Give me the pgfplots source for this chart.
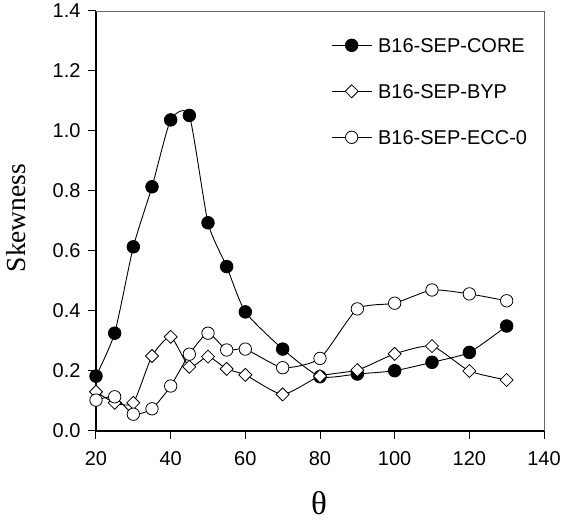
\documentclass[border=0pt]{standalone}
\usepackage{fontspec}
\setmainfont{Liberation Sans}
\newfontfamily\timesfont{Liberation Serif}
\usepackage{pgfplots}
\usepackage{pgfplotstable}
\pgfplotsset{compat=1.18}

% Skewness against angle theta for the three B16-SEP cases
\pgfplotstableread{
theta core  byp   ecc
20    0.183 0.131 0.103
25    0.326 0.094 0.114
30    0.614 0.094 0.056
35    0.814 0.250 0.074
40    1.037 0.314 0.150
45    1.052 0.214 0.256
50    0.694 0.248 0.326
55    0.548 0.207 0.270
60    0.397 0.187 0.273
70    0.273 0.122 0.211
80    0.181 0.183 0.242
90    0.190 0.203 0.407
100   0.201 0.257 0.426
110   0.229 0.283 0.470
120   0.262 0.200 0.457
130   0.350 0.170 0.434
}\skewtab

\begin{document}
\begin{tikzpicture}
\path[use as bounding box] (0,0) rectangle (565pt,521pt);
\begin{axis}[
  at={(96pt,90pt)}, anchor=south west,
  scale only axis, width=448pt, height=420pt,
  xmin=20, xmax=140, ymin=0, ymax=1.4,
  xtick={20,40,60,80,100,120,140},
  ytick={0,0.2,0.4,0.6,0.8,1.0,1.2,1.4},
  axis x line*=bottom, axis y line*=left,
  axis line style={line width=1.1pt, -},
  tick style={black, line width=1pt},
  tick align=outside, major tick length=8pt,
  minor tick num=0,
  /pgf/number format/assume math mode=true,
  tick label style={font=\fontsize{20}{24}\selectfont},
  yticklabel style={/pgf/number format/fixed, /pgf/number format/fixed zerofill,
    /pgf/number format/precision=1, xshift=-4pt},
  xticklabel style={yshift=-9pt},
  ylabel={\timesfont Skewness},
  ylabel style={font=\fontsize{27.5}{32}\selectfont, inner sep=0pt,
    at={(axis description cs:-0.179,0.507)}, anchor=center},
  xlabel={\timesfont θ},
  xlabel style={font=\fontsize{33}{38}\selectfont, inner sep=0pt,
    at={(axis description cs:0.498,-0.171)}, anchor=center},
  clip=false,
  legend style={draw=none, fill=none, inner sep=0pt,
    at={(axis description cs:0.5246,0.936)}, anchor=north west,
    font=\fontsize{20}{24}\selectfont, row sep=31.5pt, column sep=6pt,
    nodes={inner sep=0pt, text height=14.5pt, text depth=0pt}},
  legend cell align=left,
  legend image code/.code={\draw[mark repeat=2,mark phase=2] plot coordinates {(0pt,0pt) (20pt,0pt) (40pt,0pt)};},
  after end axis/.code={\draw[black!60, line width=0.8pt] (rel axis cs:0,1) -- (rel axis cs:1,1) -- (rel axis cs:1,0);},
]
\addplot[black, line width=0.9pt, smooth, tension=0.35, mark=*, mark size=6.3pt,
  mark options={fill=black, line width=0.8pt}] table[x=theta, y=core] {\skewtab};
\addlegendentry{B16-SEP-CORE}
\addplot[black, line width=0.9pt, smooth, tension=0.35, mark=square*, mark size=4.6pt,
  mark options={fill=white, rotate=45, line width=0.8pt}] table[x=theta, y=byp] {\skewtab};
\addlegendentry{B16-SEP-BYP}
\addplot[black, line width=0.9pt, smooth, tension=0.35, mark=*, mark size=6.2pt,
  mark options={fill=white, line width=0.8pt}] table[x=theta, y=ecc] {\skewtab};
\addlegendentry{B16-SEP-ECC-0}
\end{axis}
\end{tikzpicture}
\end{document}
